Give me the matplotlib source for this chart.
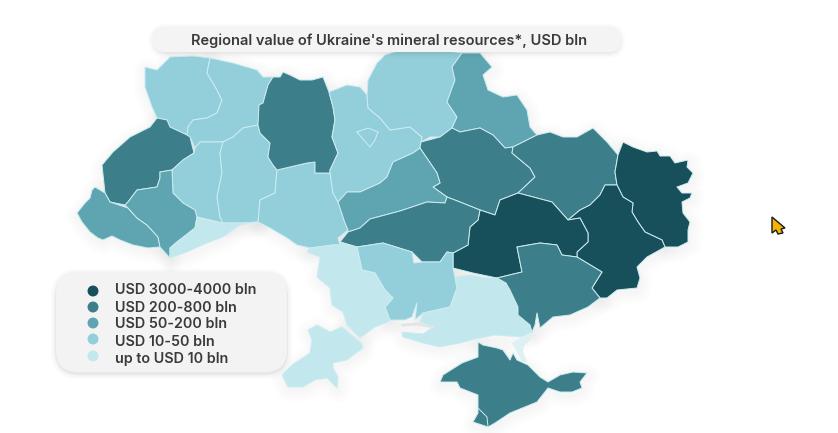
"""
Regional value of Ukraine's mineral resources, redrawn as a filled map.
Outlines are read off the picture, in pixel coordinates.
"""
import matplotlib
matplotlib.use("Agg")
import matplotlib.pyplot as plt
from matplotlib.patches import Polygon, FancyBboxPatch

title = "Regional value of Ukraine's mineral resources*, USD bln"
legend_labels = ["USD 3000-4000 bln", "USD 200-800 bln", "USD 50-200 bln", "USD 10-50 bln", "up to USD 10 bln"]
class_colors = ["#17505a", "#3c7f8a", "#5fa5b1", "#93cfda", "#c2e7ed"]

volyn = [(145,67),(157,70),(170,57),(193,56),(210,58),(207,73),(217,90),(222,100),(217,113),(207,118),(193,120),(188,127),(187,135),(170,127),(167,120),(157,118),(152,107),(145,87)]
rivne = [(210,58),(233,63),(257,70),(263,77),(273,77),(268,85),(263,103),(259,105),(258,125),(243,128),(233,137),(223,142),(200,142),(195,148),(190,137),(187,135),(188,127),(193,120),(207,118),(217,113),(222,100),(217,90),(207,73)]
lviv = [(157,118),(167,120),(170,127),(187,135),(190,137),(194,153),(183,160),(172,170),(160,172),(160,178),(157,187),(137,190),(128,202),(125,205),(110,202),(105,193),(102,165),(113,152),(130,137),(150,127)]
ternopil = [(195,148),(200,142),(223,142),(220,153),(222,173),(217,197),(220,217),(223,223),(197,217),(195,210),(183,203),(173,193),(172,170),(183,160),(194,153)]
khmelnytskyi = [(223,142),(233,137),(243,128),(258,125),(260,133),(270,143),(268,157),(273,165),(277,170),(275,193),(260,200),(258,222),(243,223),(223,223),(220,217),(217,197),(222,173),(220,153)]
vinnytsia = [(277,170),(307,163),(315,162),(315,173),(330,173),(333,193),(338,202),(345,223),(348,230),(338,238),(340,245),(333,245),(310,248),(297,245),(287,238),(270,228),(258,222),(260,200),(275,193)]
zakarpattia = [(95,187),(105,193),(110,202),(128,208),(137,218),(147,225),(158,237),(160,247),(148,248),(133,245),(120,240),(112,236),(103,240),(98,238),(90,232),(82,222),(77,213),(85,203),(90,198),(92,190)]
ivano_frankivsk = [(128,202),(137,190),(157,187),(160,178),(160,172),(172,170),(173,193),(183,203),(195,210),(197,217),(195,228),(177,242),(170,248),(170,258),(160,247),(158,237),(147,225),(137,218),(128,208),(125,205)]
chernivtsi = [(197,217),(220,223),(243,223),(258,222),(240,225),(223,237),(207,243),(187,252),(170,258),(170,248),(177,242),(195,228)]
zhytomyr = [(273,77),(280,77),(283,72),(290,75),(300,80),(312,80),(323,77),(329,92),(333,107),(335,120),(332,137),(338,153),(330,170),(330,173),(315,173),(315,162),(307,163),(277,170),(273,165),(268,157),(270,143),(260,133),(258,125),(259,105),(263,103),(268,85)]
kyiv = [(329,92),(347,85),(360,87),(367,95),(368,108),(380,118),(390,130),(410,127),(422,137),(420,148),(413,153),(393,162),(387,177),(380,183),(360,192),(347,192),(338,202),(333,193),(330,173),(330,170),(338,153),(332,137),(335,120),(333,107)]
chernihiv = [(367,95),(368,80),(377,63),(385,55),(400,50),(440,50),(462,53),(452,67),(455,80),(447,102),(457,117),(452,128),(440,137),(430,137),(421,142),(422,137),(410,127),(390,130),(380,118),(368,108)]
sumy = [(462,53),(480,53),(492,67),(483,75),(488,90),(503,97),(517,95),(527,110),(530,127),(537,135),(513,147),(505,148),(493,135),(480,128),(460,132),(452,128),(457,117),(447,102),(455,80),(452,67)]
poltava = [(421,142),(440,137),(452,128),(460,132),(480,128),(493,135),(505,148),(513,147),(512,153),(530,168),(535,177),(518,193),(500,200),(495,215),(480,210),(460,202),(447,197),(433,187),(440,183),(437,173),(420,148)]
kharkiv = [(537,135),(550,132),(563,137),(577,137),(593,128),(607,142),(618,155),(615,172),(617,185),(605,185),(600,195),(590,205),(580,210),(568,220),(552,202),(518,193),(535,177),(530,168),(512,153),(513,147)]
luhansk = [(618,155),(623,142),(633,147),(647,152),(657,151),(660,156),(670,156),(675,163),(688,160),(687,167),(693,173),(688,183),(677,187),(682,193),(692,193),(690,198),(682,202),(683,213),(690,222),(688,230),(688,242),(678,247),(665,247),(662,240),(645,232),(638,222),(632,212),(633,203),(623,197),(617,185),(615,172)]
donetsk = [(617,185),(623,197),(633,203),(632,212),(638,222),(645,232),(662,240),(665,247),(647,257),(637,267),(640,278),(637,288),(617,290),(607,298),(600,298),(592,288),(602,272),(577,257),(577,252),(588,242),(588,233),(580,218),(568,220),(580,210),(590,205),(600,195),(605,185)]
dnipro = [(495,215),(500,200),(518,193),(552,202),(568,220),(580,218),(588,233),(588,242),(577,252),(577,257),(562,255),(557,245),(540,243),(517,247),(522,272),(497,278),(473,273),(453,268),(453,253),(468,245),(470,227),(478,220),(480,210)]
cherkasy = [(338,202),(347,192),(360,192),(380,183),(387,177),(393,162),(413,153),(420,148),(437,173),(440,183),(433,187),(447,197),(445,203),(427,202),(400,211),(370,219),(360,228),(348,232),(348,230),(345,223)]
kirovohrad = [(340,242),(348,232),(360,228),(370,219),(400,211),(427,202),(445,203),(447,197),(460,202),(480,210),(478,220),(470,227),(468,245),(453,253),(447,252),(440,262),(422,262),(412,252),(383,243),(357,247)]
mykolaiv = [(357,247),(383,243),(412,252),(414,263),(422,262),(440,262),(447,252),(453,253),(453,268),(455,277),(457,288),(450,307),(423,313),(415,320),(417,303),(412,317),(405,320),(395,320),(390,320),(385,307),(393,298),(385,290),(375,273),(362,270)]
odesa = [(307,252),(310,248),(333,245),(340,245),(340,242),(357,247),(362,270),(375,273),(385,290),(393,298),(385,307),(390,320),(388,322),(375,327),(360,338),(347,325),(343,312),(332,305),(330,288),(317,277),(320,257)]
budjak = [(317,325),(330,332),(342,327),(361,343),(363,348),(347,360),(333,363),(333,368),(338,377),(337,388),(327,378),(315,380),(303,387),(288,387),(282,375),(292,365),(310,353),(312,340),(308,330)]
kherson = [(455,277),(470,275),(487,278),(497,278),(506,283),(510,290),(518,307),(518,315),(530,325),(532,332),(522,337),(495,335),(480,338),(460,343),(440,347),(423,343),(403,337),(402,332),(423,334),(433,327),(420,322),(423,313),(450,307),(457,288)]
zaporizhzhia = [(497,278),(522,272),(517,247),(540,243),(557,245),(562,255),(577,257),(602,272),(592,288),(600,298),(588,307),(570,315),(553,317),(540,328),(537,313),(535,325),(532,332),(530,325),(518,315),(518,307),(510,290),(506,283)]
crimea = [(478,342),(483,345),(497,348),(503,350),(510,360),(513,353),(517,360),(528,365),(540,377),(548,382),(560,375),(573,372),(587,373),(580,382),(582,388),(572,392),(560,392),(548,388),(537,402),(510,413),(495,423),(488,427),(473,422),(478,413),(478,395),(460,388),(457,382),(440,382),(443,375),(462,363),(478,357)]
arabat = [(522,337),(532,332),(530,340),(524,346),(523,352),(527,362),(522,362),(516,350),(512,343)]

# class index into class_colors for each region
region_polys = [volyn, rivne, lviv, ternopil, khmelnytskyi, vinnytsia, zakarpattia, ivano_frankivsk, chernivtsi,
                zhytomyr, kyiv, chernihiv, sumy, poltava, kharkiv, luhansk, donetsk, dnipro, cherkasy, kirovohrad,
                mykolaiv, odesa, budjak, kherson, zaporizhzhia, crimea]
region_class = [3, 3, 1, 3, 3, 3, 2, 2, 4,
                1, 3, 3, 2, 1, 1, 0, 0, 0, 2, 1,
                3, 4, 4, 4, 1, 1]

kyiv_city = [(357,132),(368,128),(378,132),(375,140),(370,147),(362,138),(357,132)]
sevastopol = [(478,408),(487,417),(488,427)]
estuary = [(403,325),(418,324),(433,327)]
cursor = [(772,217),(785,228),(781,229),(783,233),(778,234),(776,230),(772,233)]

legend_y = [291, 307, 323, 339, 356]
legend_text_y = [290.5, 307.5, 324.5, 341.5, 359]


def main():
    fig = plt.figure(figsize=(8.38, 4.33), dpi=100)
    ax = fig.add_axes([0, 0, 1, 1])
    ax.set_xlim(0, 838)
    ax.set_ylim(433, 0)
    ax.axis("off")

    # soft shadow under the whole map
    for w in range(2, 20, 2):
        for poly in region_polys:
            shifted = [(x + 1, y + 3) for x, y in poly]
            ax.add_patch(Polygon(shifted, closed=True, facecolor="none", edgecolor="#000000",
                                 alpha=0.004, lw=w, joinstyle="round", zorder=1))

    for poly, c in zip(region_polys, region_class):
        ax.add_patch(Polygon(poly, closed=True, facecolor=class_colors[c], edgecolor="#cdecf1",
                             lw=0.7, joinstyle="round", zorder=2))
    ax.add_patch(Polygon(arabat, closed=True, facecolor="#dff0f3", edgecolor="none", zorder=2))

    ax.plot(*zip(*kyiv_city), color="#cdecf1", lw=0.7, zorder=3)
    ax.plot(*zip(*sevastopol), color="#cdecf1", lw=0.7, zorder=3)
    ax.plot(*zip(*estuary), color="#e4e4e4", lw=2.0, zorder=3)

    # title pill
    for w, a in [(9, 0.015), (6, 0.025), (3, 0.04)]:
        ax.add_patch(FancyBboxPatch((155, 30), 464, 22, boxstyle="round,pad=0,rounding_size=11",
                                    facecolor="none", edgecolor="#000000", lw=w, alpha=a, zorder=4))
    ax.add_patch(FancyBboxPatch((153, 28), 468, 24, boxstyle="round,pad=0,rounding_size=12",
                                facecolor="#f4f4f4", edgecolor="none", zorder=5))
    ax.text(389, 41, title, ha="center", va="center", fontsize=10.5, color="#3a3a3a",
            family="Inter", weight="semibold", zorder=6)

    # legend box
    for w, a in [(9, 0.015), (6, 0.025), (3, 0.05)]:
        ax.add_patch(FancyBboxPatch((57, 275), 229, 98, boxstyle="round,pad=0,rounding_size=22",
                                    facecolor="none", edgecolor="#000000", lw=w, alpha=a, zorder=4))
    ax.add_patch(FancyBboxPatch((56, 272), 231, 100, boxstyle="round,pad=0,rounding_size=22",
                                facecolor="#f3f3f3", edgecolor="none", zorder=5))
    ax.scatter([93] * 5, legend_y, s=62, c=class_colors, linewidths=0, zorder=6)
    for label, y in zip(legend_labels, legend_text_y):
        ax.text(115, y, label, ha="left", va="center", fontsize=10.3, color="#3a3a3a",
                family="Inter", weight="semibold", zorder=6)

    ax.add_patch(Polygon(cursor, closed=True, facecolor="#f5b400", edgecolor="#1a1a1a", lw=1.0, zorder=7))

    fig.savefig("out.png", dpi=100)


if __name__ == "__main__":
    main()
